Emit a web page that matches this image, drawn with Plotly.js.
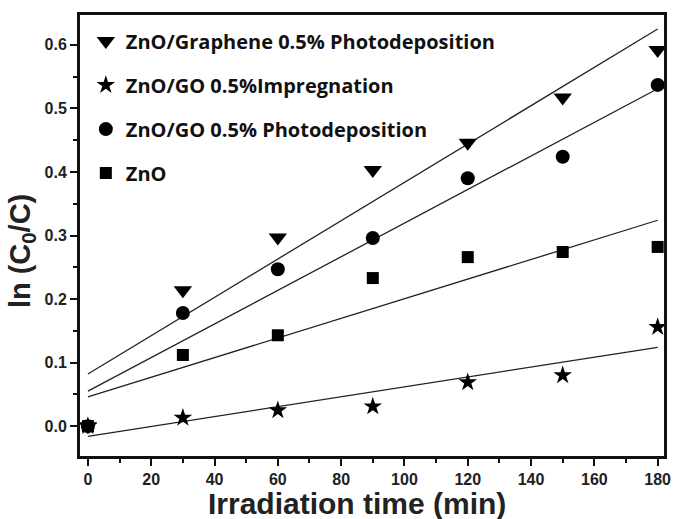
<!DOCTYPE html>
<html><head><meta charset="utf-8">
<script src="https://cdn.plot.ly/plotly-3.0.1.min.js"></script>
<style>html,body{margin:0;padding:0;background:#fff}</style>
</head><body>
<div id="chart" style="width:675px;height:519px"></div>
<script>
const time = [0, 30, 60, 90, 120, 150, 180];
const names = ["ZnO/Graphene 0.5% Photodeposition", "ZnO/GO 0.5%Impregnation", "ZnO/GO 0.5% Photodeposition", "ZnO"];
const graphenePD = [0, 0.214, 0.297, 0.403, 0.446, 0.517, 0.592];
const goImpreg = [0, 0.013, 0.025, 0.031, 0.069, 0.080, 0.156];
const goPD = [0, 0.178, 0.247, 0.296, 0.390, 0.424, 0.537];
const zno = [0, 0.112, 0.143, 0.233, 0.266, 0.274, 0.282];
// fitted line endpoints (at t=0 and t=180)
const fitX = [0, 180];
const fitGraphenePD = [0.082, 0.625];
const fitGoImpreg = [-0.016, 0.124];
const fitGoPD = [0.055, 0.531];
const fitZno = [0.046, 0.324];
const xTitle = "Irradiation time (min)";
const yTitle = "ln (C<sub>0</sub>/C)";

const series = [graphenePD, goImpreg, goPD, zno];
const fits = [fitGraphenePD, fitGoImpreg, fitGoPD, fitZno];
const symbols = ["triangle-down", "star", "circle", "square"];
const sizes = [16, 14, 14, 12];

const traces = [];
fits.forEach((f) => {
  traces.push({x: fitX, y: f, mode: "lines", line: {color: "#222", width: 1.3}, showlegend: false, hoverinfo: "skip"});
});
series.forEach((s, i) => {
  traces.push({x: time, y: s, mode: "markers", name: "<b>" + names[i] + "</b>", legendgroup: "g" + i,
    marker: {symbol: symbols[i], size: sizes[i], color: "#000"}});
});

const axisFont = {family: "Liberation Sans, Arial", size: 16, color: "#222"};
const titleFont = {family: "Liberation Sans, Arial", size: 30, color: "#222"};
const layout = {
  width: 675, height: 519,
  margin: {l: 80, r: 11, t: 15, b: 63},
  paper_bgcolor: "#fff", plot_bgcolor: "#fff",
  showlegend: true,
  legend: {x: 0.01, y: 0.985, xanchor: "left", yanchor: "top", bgcolor: "rgba(0,0,0,0)",
    font: {family: "Open Sans", size: 20, color: "#111"}, tracegroupgap: 15, itemwidth: 30},
  xaxis: {range: [-2.5, 182], tickvals: [0,20,40,60,80,100,120,140,160,180], ticktext: ["<b>0</b>","<b>20</b>","<b>40</b>","<b>60</b>","<b>80</b>","<b>100</b>","<b>120</b>","<b>140</b>","<b>160</b>","<b>180</b>"],
    ticks: "outside", ticklen: 7, tickwidth: 2, tickcolor: "#111",
    minor: {dtick: 10, tick0: 0, ticks: "outside", ticklen: 4, tickwidth: 2, tickcolor: "#111"},
    showline: true, linewidth: 3, linecolor: "#111", mirror: true, showgrid: false, zeroline: false,
    tickfont: axisFont},
  yaxis: {range: [-0.047, 0.647], tickvals: [0,0.1,0.2,0.3,0.4,0.5,0.6], ticktext: ["<b>0.0</b>","<b>0.1</b>","<b>0.2</b>","<b>0.3</b>","<b>0.4</b>","<b>0.5</b>","<b>0.6</b>"],
    ticks: "outside", ticklen: 7, tickwidth: 2, tickcolor: "#111",
    minor: {dtick: 0.05, tick0: 0, ticks: "outside", ticklen: 4, tickwidth: 2, tickcolor: "#111"},
    showline: true, linewidth: 3, linecolor: "#111", mirror: true, showgrid: false, zeroline: false,
    tickfont: axisFont},
  annotations: [
    {text: "<b>" + xTitle + "</b>", xref: "paper", yref: "paper", x: 0.474, y: -0.108, xanchor: "center", yanchor: "middle", showarrow: false, font: titleFont},
    {text: "<b>" + yTitle + "</b>", xref: "paper", yref: "paper", x: -0.099, y: 0.465, xanchor: "center", yanchor: "middle", textangle: -90, showarrow: false, font: {family: "Liberation Sans, Arial", size: 29, color: "#222"}}
  ]
};
Plotly.newPlot("chart", traces, layout, {displayModeBar: false, staticPlot: true});
</script>
</body></html>
